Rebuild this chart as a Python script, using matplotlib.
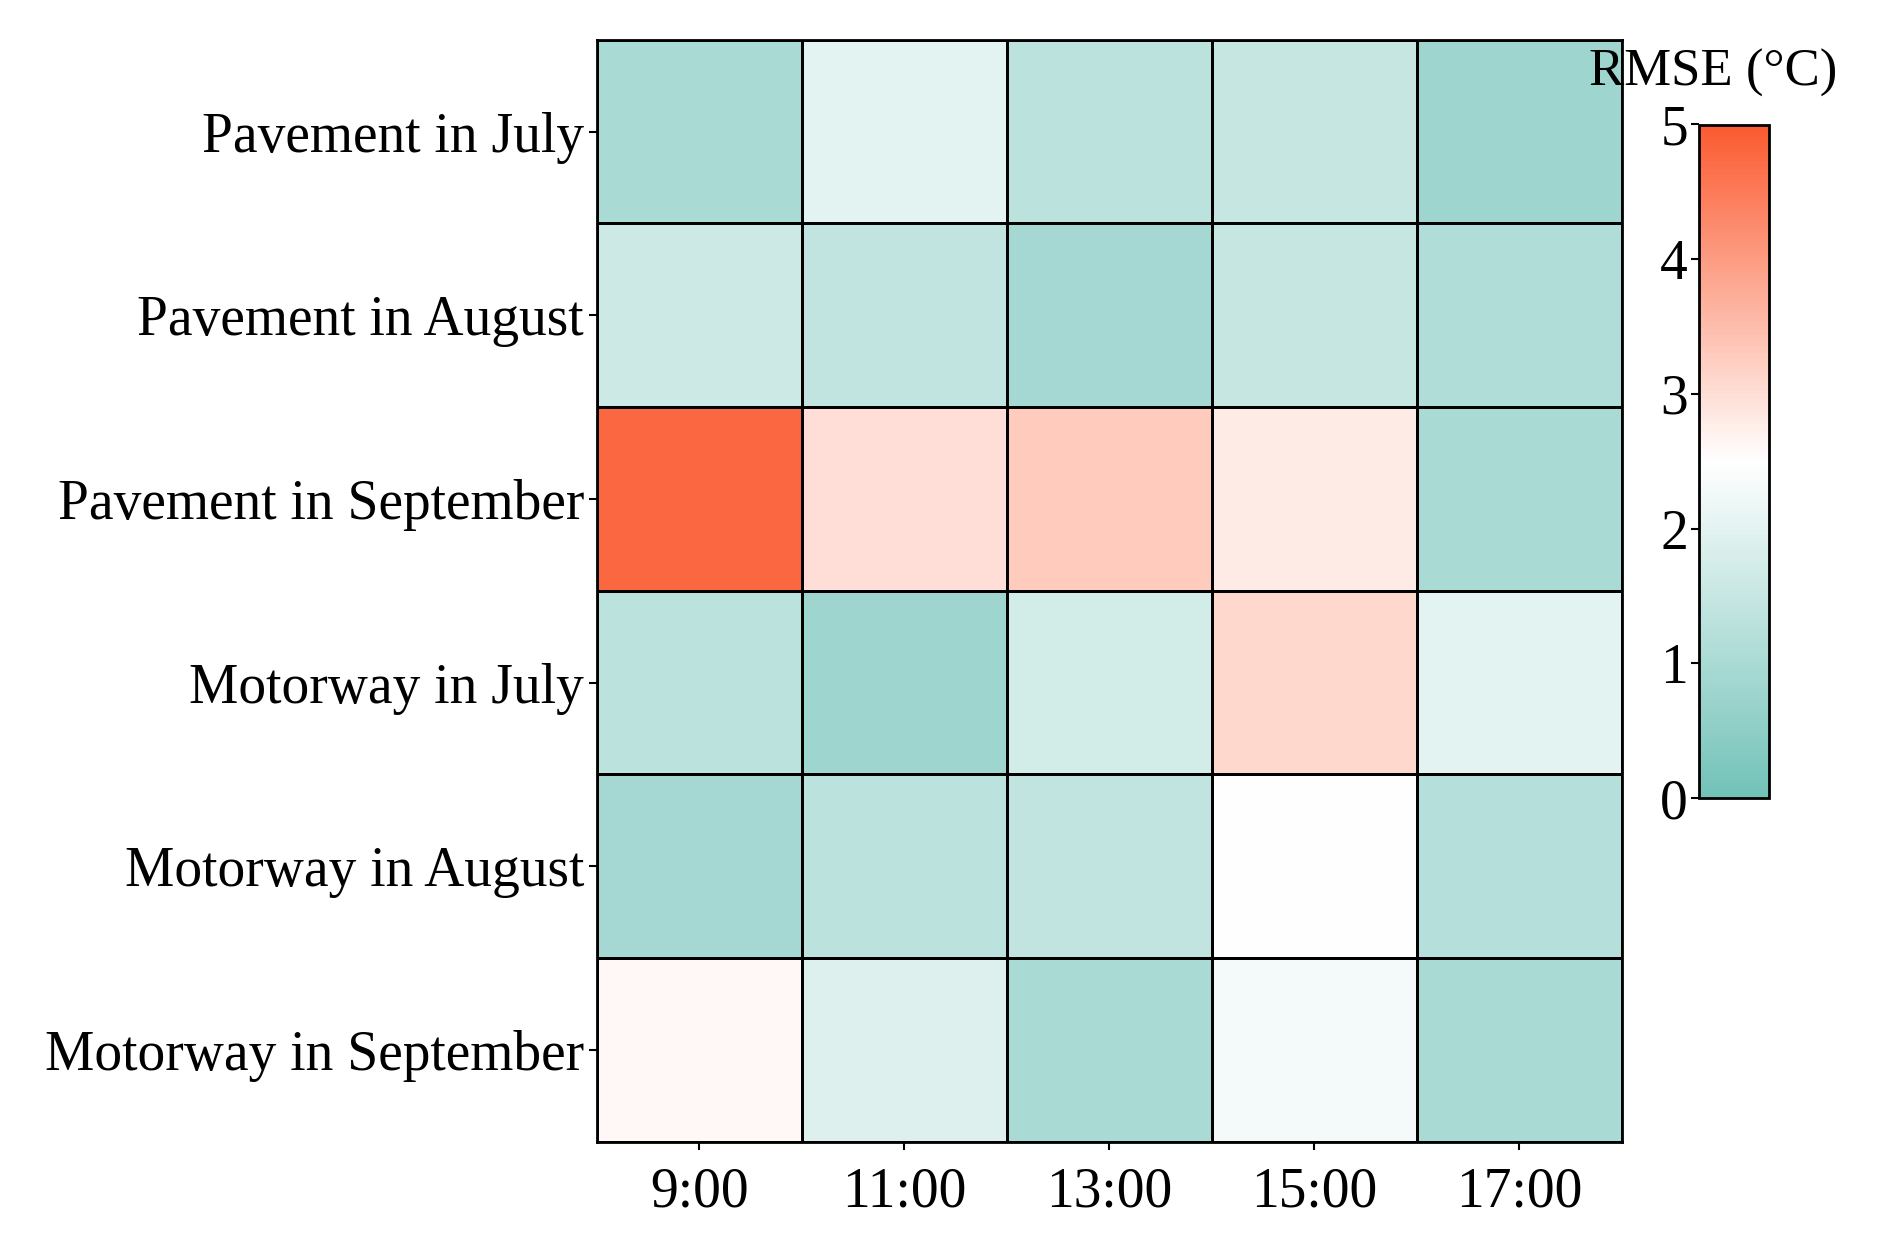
# heatmap of RMSE by surface/month and hour
import numpy as np
import matplotlib.pyplot as plt
from matplotlib.colors import LinearSegmentedColormap

rows = ['Pavement in July', 'Pavement in August', 'Pavement in September',
        'Motorway in July', 'Motorway in August', 'Motorway in September']
hours = ['9:00', '11:00', '13:00', '15:00', '17:00']

r_pav_jul = [1.0, 2.0, 1.3, 1.5, 0.8]
r_pav_aug = [1.6, 1.4, 0.9, 1.5, 1.1]
r_pav_sep = [4.8, 3.0, 3.3, 2.8, 1.0]
r_mot_jul = [1.3, 0.8, 1.7, 3.1, 2.0]
r_mot_aug = [0.9, 1.3, 1.4, 2.5, 1.2]
r_mot_sep = [2.6, 1.9, 1.0, 2.3, 1.0]

data = np.array([r_pav_jul, r_pav_aug, r_pav_sep, r_mot_jul, r_mot_aug, r_mot_sep])

plt.rcParams['font.family'] = ['Liberation Serif', 'DejaVu Serif']
cmap = LinearSegmentedColormap.from_list('tw', ['#72c2b8', '#ffffff', '#fb5a30'])

fig = plt.figure(figsize=(18.88, 12.45), dpi=100)
ax = fig.add_axes([0.316, 0.083, 0.543, 0.885])
im = ax.pcolormesh(data, cmap=cmap, vmin=0, vmax=5, edgecolors='black', linewidth=2)
ax.set_xlim(0, 5)
ax.set_ylim(6, 0)
ax.set_xticks(np.arange(5) + 0.5)
ax.set_xticklabels(hours)
ax.set_yticks(np.arange(6) + 0.5)
ax.set_yticklabels(rows)
ax.tick_params(labelsize=40, length=6, width=1.5, pad=3)
ax.tick_params(axis='x', pad=12)
for s in ax.spines.values():
    s.set_linewidth(2)

cax = fig.add_axes([0.90, 0.359, 0.037, 0.541])
cb = fig.colorbar(im, cax=cax)
cb.set_ticks([0, 1, 2, 3, 4, 5])
cb.ax.tick_params(labelsize=40, length=6, width=1.5, pad=2)
cb.outline.set_linewidth(2)
cax.yaxis.set_ticks_position('left')
cax.yaxis.set_label_position('left')
cax.set_title('RMSE (°C)', fontsize=38, pad=28, x=0.2)

fig.savefig('out.png')
